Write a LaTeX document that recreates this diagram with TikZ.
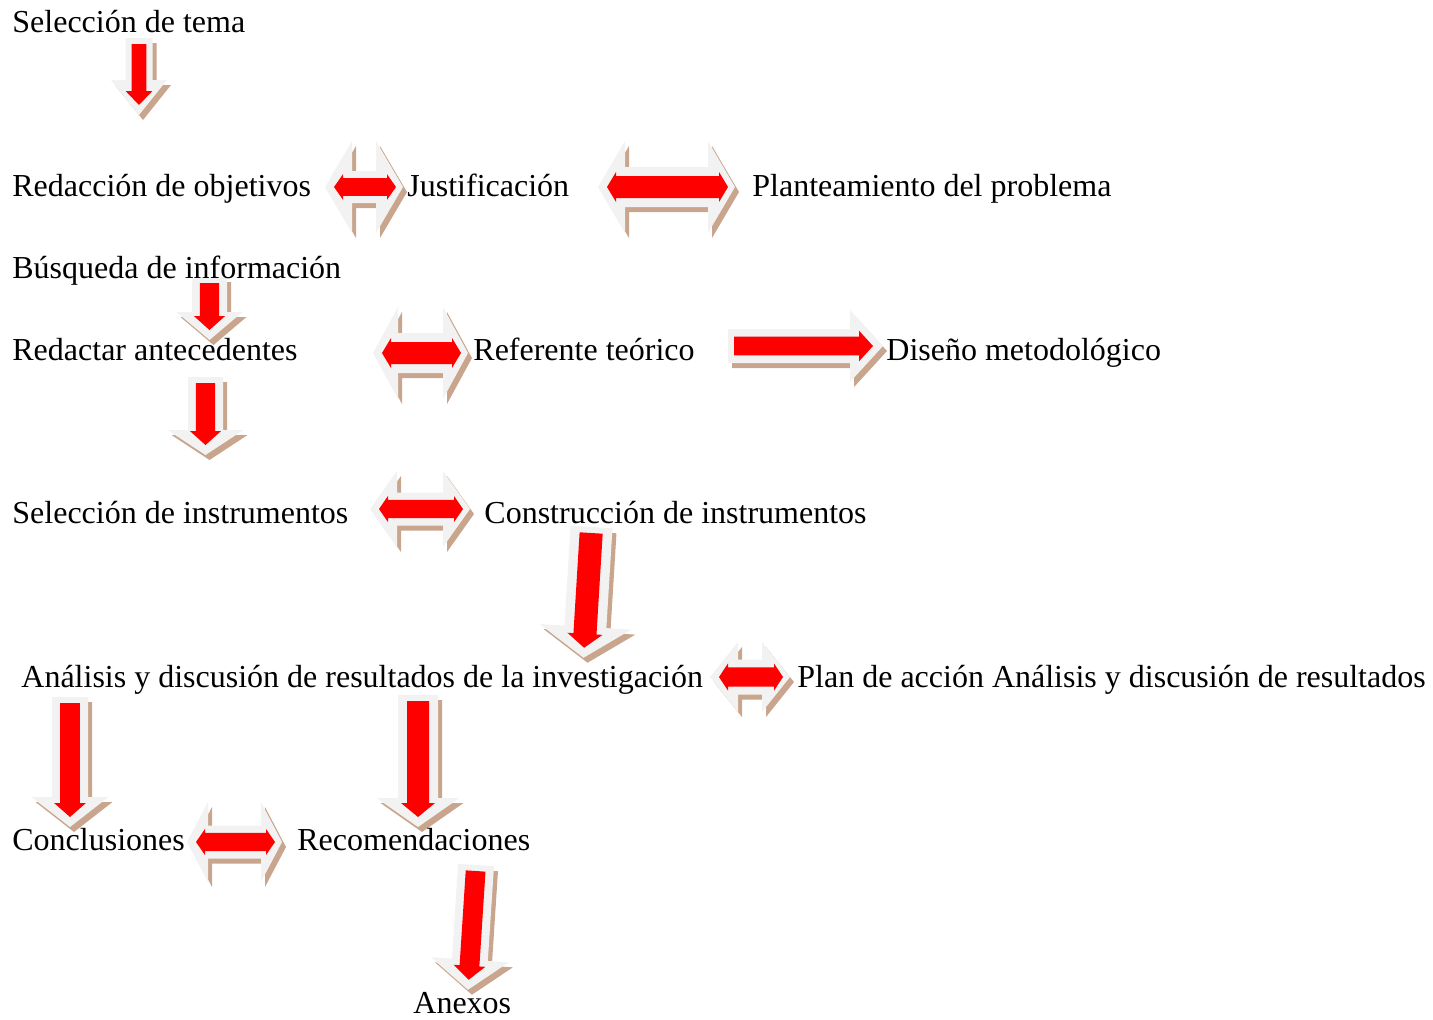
\documentclass[tikz,border=0pt]{standalone}
\usepackage{fontspec}
\setmainfont{Liberation Serif}
\definecolor{framegray}{HTML}{F2F2F2}
\definecolor{shadowtan}{HTML}{C8A58C}
\definecolor{arrowred}{HTML}{FF0000}
% #1 start, #2 angle, #3 length, #4 shaft half width, #5 head half width, #6 head length
\newcommand{\blockarrow}[6]{%
  \foreach \dx/\dy/\col in {4/5/shadowtan,0/0/framegray}{
    \fill[\col,shift={(#1)},shift={(\dx,\dy)},rotate=#2]
      (0,{-#4}) -- ({#3-#6},{-#4}) -- ({#3-#6},{-#5}) -- (#3,0)
      -- ({#3-#6},#5) -- ({#3-#6},#4) -- (0,#4) -- cycle;}
  \fill[arrowred,shift={(#1)},rotate=#2]
    (6,{-0.55*#4}) -- ({#3-24},{-0.55*#4}) -- ({#3-24},{-0.55*#4-6}) -- ({#3-10},0)
    -- ({#3-24},{0.55*#4+6}) -- ({#3-24},{0.55*#4}) -- (6,{0.55*#4}) -- cycle;}
% #1 centre, #2 length, #3 shaft half width, #4 head half width, #5 head length
\newcommand{\twinarrow}[5]{%
  \foreach \dx/\dy/\col in {4/5/shadowtan,0/0/framegray}{
    \fill[\col,shift={(#1)},shift={(\dx,\dy)}]
      ({-0.5*#2},0) -- ({-0.5*#2+#5},{-#4}) -- ({-0.5*#2+#5},{-#3})
      -- ({0.5*#2-#5},{-#3}) -- ({0.5*#2-#5},{-#4}) -- ({0.5*#2},0)
      -- ({0.5*#2-#5},#4) -- ({0.5*#2-#5},#3) -- ({-0.5*#2+#5},#3)
      -- ({-0.5*#2+#5},#4) -- cycle;}
  \fill[arrowred,shift={(#1)}]
    ({-0.5*#2+9},0) -- ({-0.5*#2+18},{-0.55*#3-4}) -- ({-0.5*#2+18},{-0.55*#3})
    -- ({0.5*#2-16},{-0.55*#3}) -- ({0.5*#2-16},{-0.55*#3-4}) -- ({0.5*#2-7},0)
    -- ({0.5*#2-16},{0.55*#3+4}) -- ({0.5*#2-16},{0.55*#3}) -- ({-0.5*#2+18},{0.55*#3})
    -- ({-0.5*#2+18},{0.55*#3+4}) -- cycle;}
\begin{document}
\begin{tikzpicture}[x=0.5pt,y=-0.5pt,
    lbl/.style={anchor=base west,inner sep=0pt,font=\fontsize{16}{19}\selectfont}]
  \useasboundingbox (0,0) rectangle (1433,1019);

  \blockarrow{139,38}{-90}{77}{13.5}{28}{35}
  \twinarrow{364,187}{78}{16}{46}{27}
  \twinarrow{666.5,187}{137}{20}{46}{27}
  \blockarrow{209.5,277}{-90}{63}{17.5}{33}{28}
  \twinarrow{420.5,353}{95}{20}{46}{25}
  \blockarrow{728,346}{0}{155}{17}{36}{33}
  \blockarrow{205.5,377}{-90}{78}{17.5}{38}{25}
  \twinarrow{420,509}{100}{16.5}{38}{27}
  \blockarrow{591.5,527}{-93.5}{131}{21}{46}{31}
  \twinarrow{750,677}{80}{17.5}{35}{28}
  \blockarrow{70,697}{-90}{130}{18}{38.5}{30}
  \blockarrow{418,695}{-90}{132}{20}{41.5}{29}
  \twinarrow{234.5,842}{95}{16.5}{40}{21}
  \blockarrow{476,865}{-93.7}{125}{18}{39}{30}

  \node[lbl] (seltema) at (12,32) {Selección de tema};
  \node[lbl] (redobj) at (12,196) {Redacción de objetivos};
  \node[lbl] (justif) at (407,196) {Justificación};
  \node[lbl] (plantea) at (752,196) {Planteamiento del problema};
  \node[lbl] (busq) at (12,278) {Búsqueda de información};
  \node[lbl] (redant) at (12,360) {Redactar antecedentes};
  \node[lbl] (reften) at (473,360) {Referente teórico};
  \node[lbl] (diseno) at (886,360) {Diseño metodológico};
  \node[lbl] (selinst) at (12,523) {Selección de instrumentos};
  \node[lbl] (consinst) at (484,523) {Construcción de instrumentos};
  \node[lbl] (analisis) at (21,687) {Análisis y discusión de resultados de la investigación};
  \node[lbl] (plan) at (797,687) {Plan de acción Análisis y discusión de resultados};
  \node[lbl] (concl) at (12,850) {Conclusiones};
  \node[lbl] (recom) at (297,850) {Recomendaciones};
  \node[lbl] (anexos) at (413,1013) {Anexos};
\end{tikzpicture}
\end{document}
